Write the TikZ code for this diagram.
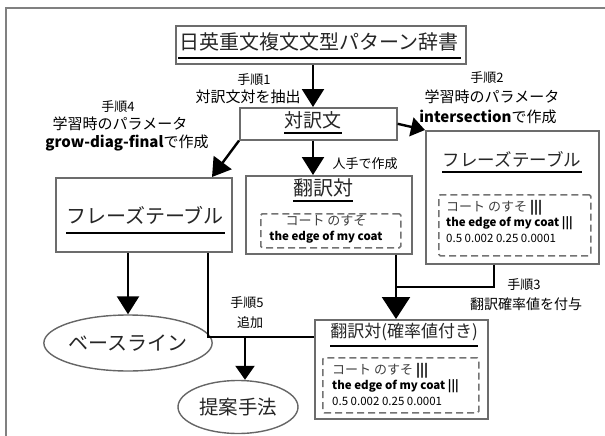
\documentclass[tikz,border=0pt]{standalone}
\usepackage{fontspec}
\setmainfont{Noto Sans CJK JP}
\usetikzlibrary{arrows.meta,shapes.geometric}
\newcommand{\fsz}[1]{\fontsize{#1}{#1}\selectfont}
\begin{document}
\begin{tikzpicture}[x=1pt,y=-1pt,
  box/.style={draw=gray!85!black, line width=1.6pt, fill=white, inner sep=0pt, anchor=north west},
  dbox/.style={draw=gray!90!black, line width=1.5pt, dash pattern=on 7pt off 4pt, rounded corners=1.5pt, inner sep=0pt, anchor=north west},
  oval/.style={ellipse, draw=gray!80!black, fill=white, line width=1.4pt, inner sep=0pt},
  ttl/.style={inner sep=0pt, text=black!85},
  lbl/.style={inner sep=0pt, text=black},
  ul/.style={line width=2.8pt, black},
  conn/.style={line width=2.4pt, black},
  arr/.style={conn, -{Triangle[width=22pt,length=18pt]}},
  bigarr/.style={conn, -{Triangle[width=28pt,length=22pt]}},
  smarr/.style={conn, -{Triangle[width=19pt,length=14pt]}},
  frame/.style={draw=gray, line width=2pt}
]
\useasboundingbox (0,0) rectangle (605,436);
\draw[frame] (6,436) -- (6,8) -- (605,8);

% boxes
\node[box, minimum width=290pt, minimum height=38pt] (title) at (175,25) {};
\node[ttl, font=\fsz{20}] (titlet) at (319,42) {日英重文複文文型パターン辞書};
\draw[ul] (178,58) -- (461,58);

\node[box, minimum width=157pt, minimum height=32pt] (taiyaku) at (239,107) {};
\node[ttl, font=\fsz{19}] (taiyakut) at (313,120) {対訳文};
\draw[ul] (284,133) -- (342,133);

\node[box, minimum width=176pt, minimum height=74pt] (lpt) at (55,177) {};
\node[ttl, font=\fsz{20}] (lptt) at (145,215) {フレーズテーブル};
\draw[ul] (66,233) -- (225,233);

\node[box, minimum width=166pt, minimum height=78pt] (hon) at (245,175) {};
\node[ttl, font=\fsz{20}] (hont) at (323,188) {翻訳対};
\draw[ul] (293,201) -- (353,201);
\node[dbox, minimum width=140pt, minimum height=34pt] (hond) at (260,213) {};
\node[ttl, font=\fsz{13}, text=black!75] (hon1) at (326,221) {コート のすそ};
\node[lbl, font=\fsz{11.5}\bfseries] (hon2) at (326,237) {the edge of my coat};

\node[box, minimum width=173pt, minimum height=133pt] (rpt) at (425,130) {};
\node[ttl, font=\fsz{17.5}] (rptt) at (512,159) {フレーズテーブル};
\draw[ul] (442,172) -- (582,172);
\node[dbox, minimum width=152pt, minimum height=61pt] (rptd) at (438,194) {};
\node[ttl, font=\fsz{13}, text=black!75, anchor=west] (rpt1) at (446,208) {コート のすそ \textcolor{black}{\textbf{|||}}};
\node[lbl, font=\fsz{11.5}\bfseries, anchor=west] (rpt2) at (446,223) {the edge of my coat |||};
\node[lbl, font=\fsz{11.5}, anchor=west] (rpt3) at (446,238) {0.5 0.002 0.25 0.0001};

\node[box, minimum width=173pt, minimum height=99pt] (prob) at (314,319) {};
\node[ttl, font=\fsz{17}] (probt) at (404,332) {翻訳対(確率値付き)};
\draw[ul] (330,346) -- (478,346);
\node[dbox, minimum width=156pt, minimum height=55pt] (probd) at (322,357) {};
\node[ttl, font=\fsz{13}, text=black!75, anchor=west] (prob1) at (332,371) {コート のすそ \textcolor{black}{\textbf{|||}}};
\node[lbl, font=\fsz{11.5}\bfseries, anchor=west] (prob2) at (332,386) {the edge of my coat |||};
\node[lbl, font=\fsz{11.5}, anchor=west] (prob3) at (332,401) {0.5 0.002 0.25 0.0001};

\node[oval, minimum width=140pt, minimum height=56pt, font=\fsz{20}, text=black!85] (base) at (128,343) {ベースライン};
\node[oval, minimum width=120pt, minimum height=53pt, font=\fsz{19.5}, text=black!85] (prop) at (238,407) {提案手法};

% labels
\node[lbl, font=\fsz{13}] (s1) at (254,80) {手順1};
\node[lbl, font=\fsz{15}] (s1b) at (248,97) {対訳文対を抽出};
\node[lbl, font=\fsz{13}] (s2) at (487,78) {手順2};
\node[lbl, font=\fsz{15}] (s2b) at (492,97) {学習時のパラメータ};
\node[lbl, font=\fsz{15}] (s2c) at (488,117) {\textbf{intersection}で作成};
\node[lbl, font=\fsz{13}] (s4) at (118,107) {手順4};
\node[lbl, font=\fsz{15}] (s4b) at (120,124) {学習時のパラメータ};
\node[lbl, font=\fsz{15}] (s4c) at (127,143) {\textbf{grow-diag-final}で作成};
\node[lbl, font=\fsz{13}] (hand) at (365,164) {人手で作成};
\node[lbl, font=\fsz{13}] (s3) at (524,285) {手順3};
\node[lbl, font=\fsz{14}] (s3b) at (526,304) {翻訳確率値を付与};
\node[lbl, font=\fsz{13}] (s5) at (247,303) {手順5};
\node[lbl, font=\fsz{13}] (s5b) at (250,323) {追加};

% helper coordinates
\coordinate (cx313) at (313,0);
\coordinate (cx212) at (212,0);
\coordinate (cx208) at (208,0);
\coordinate (cx245) at (245,0);
\coordinate (cx396) at (396,0);
\coordinate (cx494) at (494,0);
\coordinate (j5) at (0,337);
\coordinate (j3) at (0,287);

% connectors
\draw[arr] (title.south -| cx313) -- (taiyaku.north -| cx313);
\draw[arr] (taiyaku.south -| cx313) -- (hon.north -| cx313);
\draw[arr] (taiyaku.south west) -- (lpt.north -| cx212);
\draw[smarr] (taiyaku.east) -- (rpt.north west);
\draw[arr] (lpt.south -| base.north) -- (base.north);
\draw[conn] (lpt.south -| cx208) |- (prob.west |- j5);
\draw[smarr] (cx245 |- j5) -- (prop.north -| cx245);
\draw[conn] (rpt.south -| cx494) |- (cx396 |- j3);
\draw[bigarr] (hon.south -| cx396) -- (prob.north -| cx396);
\end{tikzpicture}
\end{document}
